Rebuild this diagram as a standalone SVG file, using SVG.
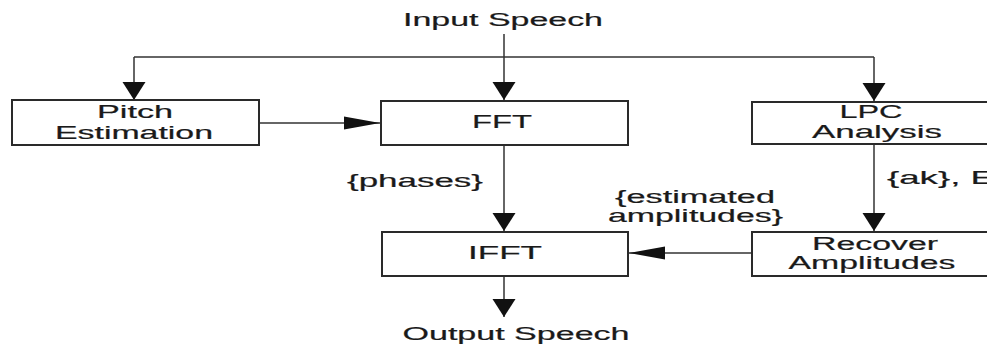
<svg xmlns="http://www.w3.org/2000/svg" width="987" height="345" viewBox="0 0 987 345">
  <style>
    .box { fill: #ffffff; stroke: #2a2a2a; stroke-width: 2; }
    .wire { fill: none; stroke: #333333; stroke-width: 1.5; }
    text { font-family: "Liberation Sans", Arial, sans-serif; font-size: 18px; fill: #1a1a1a; stroke: #1a1a1a; stroke-width: 0.2; }
    .c { text-anchor: middle; }
  </style>
  <defs>
    <!-- long, narrow head for the side-by-side links -->
    <marker id="headH" markerUnits="userSpaceOnUse" markerWidth="38" markerHeight="14" refX="36" refY="7" orient="auto">
      <path d="M0,0.5 L36,7 L0,13.5 Z" fill="#111111"/>
    </marker>
    <!-- short, wide head for the downward links -->
    <marker id="headV" markerUnits="userSpaceOnUse" markerWidth="19" markerHeight="24" refX="18" refY="12" orient="auto">
      <path d="M0,0.5 L18,12 L0,23.5 Z" fill="#111111"/>
    </marker>
  </defs>

  <rect width="987" height="345" fill="#ffffff"/>

  <g id="connectors">
    <path class="wire" d="M504,34 V100" marker-end="url(#headV)"/>
    <path class="wire" d="M134,57 H874"/>
    <path class="wire" d="M134,57 V100" marker-end="url(#headV)"/>
    <path class="wire" d="M874,57 V101" marker-end="url(#headV)"/>
    <path class="wire" d="M259,123 H380" marker-end="url(#headH)"/>
    <path class="wire" d="M504,145 V231" marker-end="url(#headV)"/>
    <path class="wire" d="M874,144 V231" marker-end="url(#headV)"/>
    <path class="wire" d="M752,253 H629" marker-end="url(#headH)"/>
    <path class="wire" d="M504,276 V317" marker-end="url(#headV)"/>
  </g>

  <g id="input-speech">
    <text class="c" x="503" y="26" textLength="200" lengthAdjust="spacingAndGlyphs">Input Speech</text>
  </g>

  <g id="pitch-estimation">
    <rect class="box" x="12" y="100" width="247" height="45"/>
    <text class="c" x="135" y="118" textLength="76" lengthAdjust="spacingAndGlyphs">Pitch</text>
    <text class="c" x="134" y="139" textLength="158" lengthAdjust="spacingAndGlyphs">Estimation</text>
  </g>

  <g id="fft">
    <rect class="box" x="381" y="101" width="247" height="44"/>
    <text class="c" x="502" y="128" textLength="60" lengthAdjust="spacingAndGlyphs">FFT</text>
  </g>

  <g id="lpc-analysis">
    <rect class="box" x="752" y="102" width="250" height="42"/>
    <text class="c" x="871" y="118" textLength="63" lengthAdjust="spacingAndGlyphs">LPC</text>
    <text class="c" x="877" y="138" textLength="130" lengthAdjust="spacingAndGlyphs">Analysis</text>
  </g>

  <g id="ifft">
    <rect class="box" x="382" y="232" width="246" height="44"/>
    <text class="c" x="505" y="259" textLength="74" lengthAdjust="spacingAndGlyphs">IFFT</text>
  </g>

  <g id="recover-amplitudes">
    <rect class="box" x="752" y="232" width="250" height="44"/>
    <text class="c" x="875" y="250" textLength="126" lengthAdjust="spacingAndGlyphs">Recover</text>
    <text class="c" x="872" y="269" textLength="167" lengthAdjust="spacingAndGlyphs">Amplitudes</text>
  </g>

  <g id="output-speech">
    <text class="c" x="516" y="340" textLength="227" lengthAdjust="spacingAndGlyphs">Output Speech</text>
  </g>

  <g id="labels">
    <text x="347" y="187" textLength="136" lengthAdjust="spacingAndGlyphs">{phases}</text>
    <text x="615" y="203" textLength="160" lengthAdjust="spacingAndGlyphs">{estimated</text>
    <text x="608" y="222" textLength="175" lengthAdjust="spacingAndGlyphs">amplitudes}</text>
    <text x="887" y="184" textLength="108" lengthAdjust="spacingAndGlyphs">{ak}, E</text>
  </g>
</svg>
